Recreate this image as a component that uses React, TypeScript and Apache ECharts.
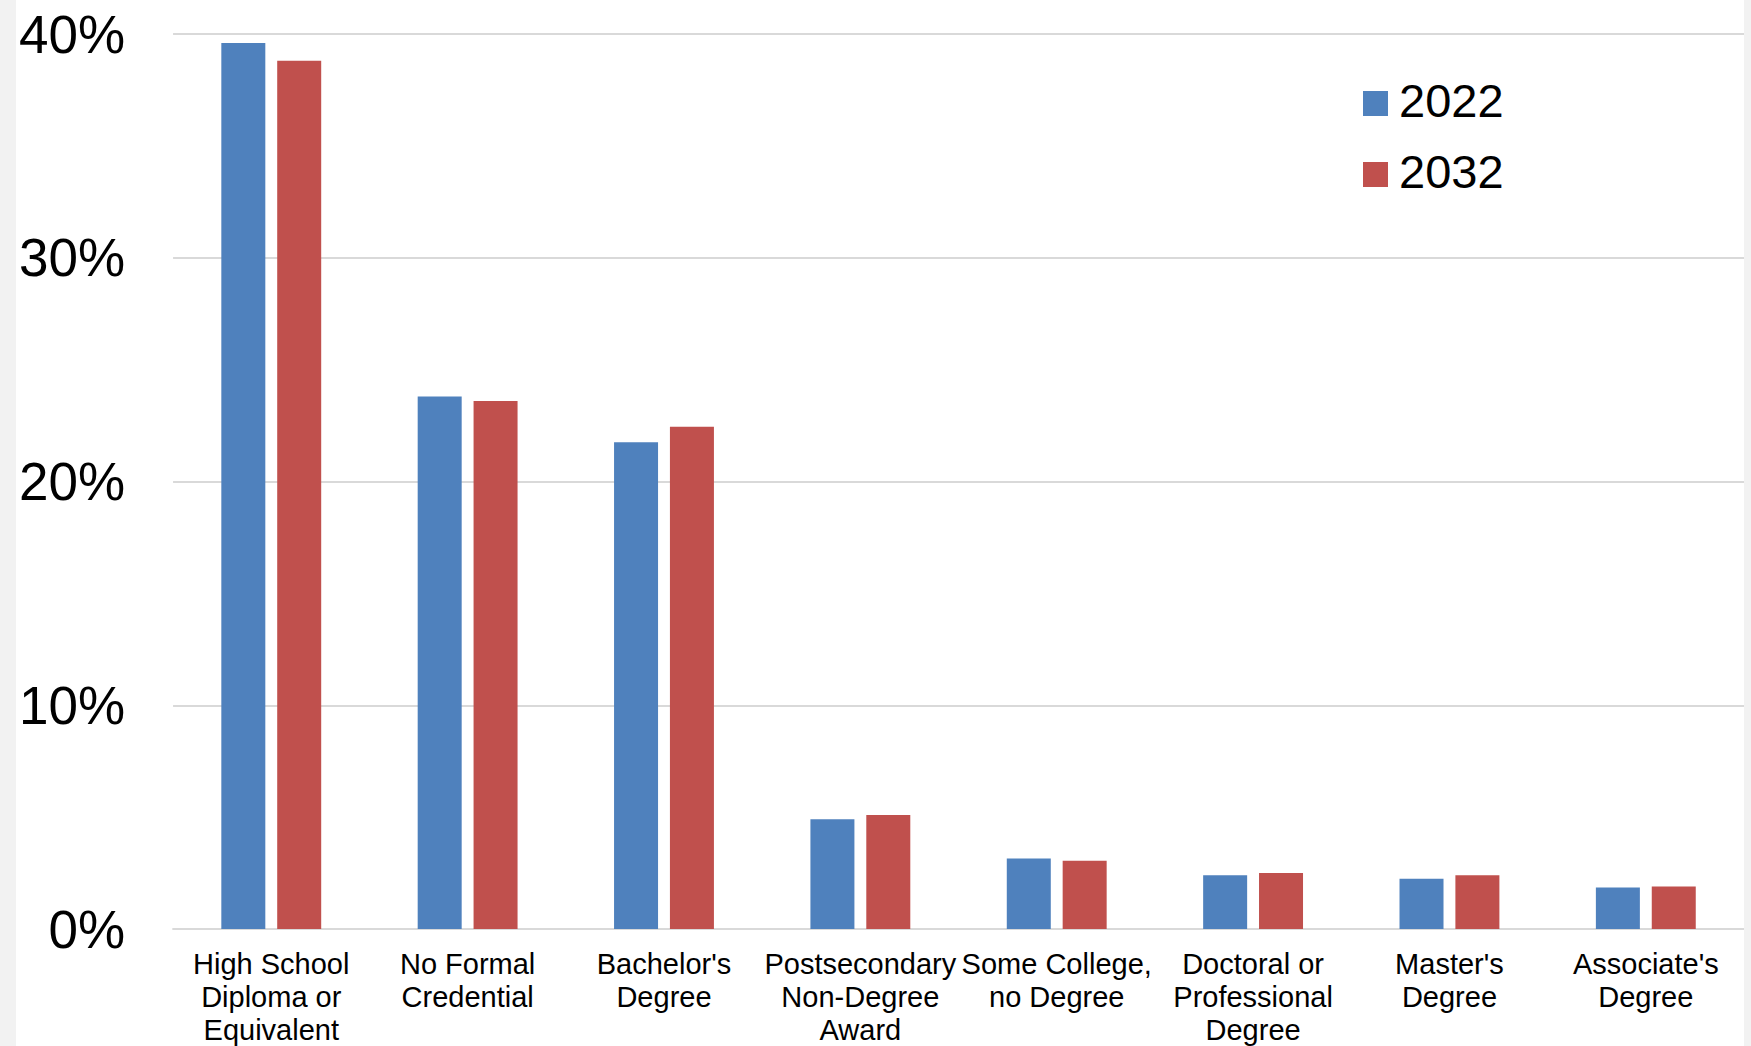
import React, { useEffect, useRef } from "react";
import * as echarts from "echarts";

const categories = [
  "High School\nDiploma or\nEquivalent",
  "No Formal\nCredential",
  "Bachelor's\nDegree",
  "Postsecondary\nNon-Degree\nAward",
  "Some College,\nno Degree",
  "Doctoral or\nProfessional\nDegree",
  "Master's\nDegree",
  "Associate's\nDegree",
];
const values2022 = [39.6, 23.8, 21.75, 4.9, 3.15, 2.4, 2.25, 1.85];
const values2032 = [38.8, 23.6, 22.45, 5.1, 3.05, 2.5, 2.4, 1.9];
const seriesNames = ["2022", "2032"];
const yTicks = { min: 0, max: 40, interval: 10 };

const FONT = "'Liberation Sans', Arial, Helvetica, sans-serif";

export default function App() {
  const ref = useRef<HTMLDivElement>(null);
  useEffect(() => {
    document.body.style.margin = "0";
    if (!ref.current) return;
    const chart = echarts.init(ref.current, undefined, { renderer: "svg" });
    chart.setOption({
      animation: false,
      backgroundColor: "#ffffff",
      textStyle: { fontFamily: FONT },
      grid: { left: 156, right: 0, top: 34, bottom: 117, containLabel: false },
      legend: {
        orient: "vertical",
        left: 1347,
        top: 77,
        padding: 0,
        itemWidth: 25,
        itemHeight: 25,
        itemGap: 18,
        icon: "rect",
        data: seriesNames,
        formatter: "{a|{name}}",
        textStyle: {
          fontFamily: FONT,
          fontSize: 47,
          color: "#000",
          rich: {
            a: {
              fontFamily: FONT,
              fontSize: 47,
              lineHeight: 50,
              color: "#000",
              padding: [0, 0, 6, 6],
            },
          },
        },
      },
      xAxis: {
        type: "category",
        data: categories,
        axisLine: { show: true, lineStyle: { color: "#d9d9d9", width: 2 } },
        axisTick: { show: false },
        axisLabel: {
          interval: 0,
          fontFamily: FONT,
          fontSize: 29,
          lineHeight: 33,
          color: "#000",
          margin: 18,
          align: "center",
        },
      },
      yAxis: {
        type: "value",
        min: yTicks.min,
        max: yTicks.max,
        interval: yTicks.interval,
        axisLine: { show: false },
        axisTick: { show: false },
        splitLine: { lineStyle: { color: "#d9d9d9", width: 2 } },
        axisLabel: {
          formatter: "{value}%",
          fontFamily: FONT,
          fontSize: 53,
          color: "#000",
          margin: 48,
        },
      },
      series: [
        {
          name: seriesNames[0],
          type: "bar",
          data: values2022,
          barWidth: 44,
          barGap: "27%",
          itemStyle: { color: "#4f81bd" },
        },
        {
          name: seriesNames[1],
          type: "bar",
          data: values2032,
          barWidth: 44,
          barGap: "27%",
          itemStyle: { color: "#c0504d" },
        },
      ],
    });
    return () => chart.dispose();
  }, []);
  return (
    <div
      style={{
        position: "relative",
        width: 1751,
        height: 1046,
        background: "#f2f2f2",
        overflow: "hidden",
      }}
    >
      <div
        ref={ref}
        style={{ position: "absolute", left: 16, top: 0, width: 1728, height: 1046 }}
      />
    </div>
  );
}
